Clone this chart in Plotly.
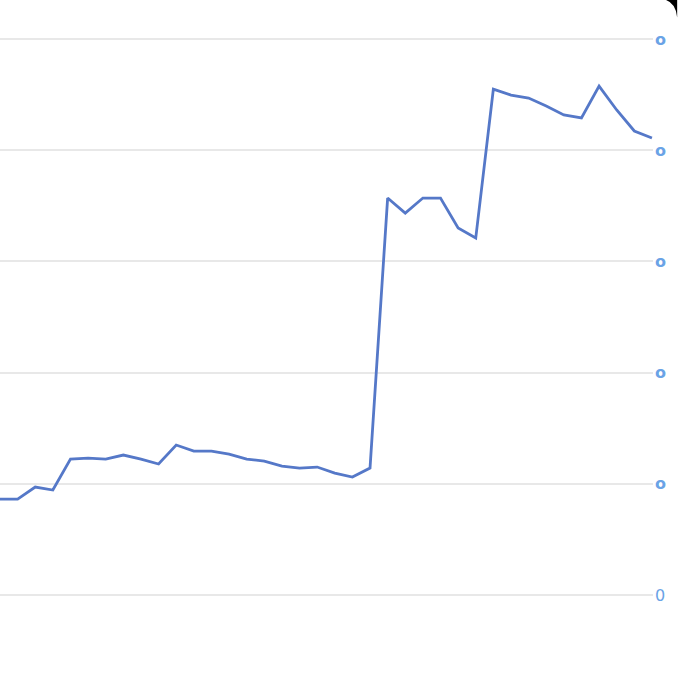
import plotly.graph_objects as go

x_index = list(range(38))
values = [0.863, 0.863, 0.971, 0.944, 1.223, 1.232, 1.223, 1.259, 1.223, 1.178,
          1.349, 1.295, 1.295, 1.268, 1.223, 1.205, 1.160, 1.142, 1.151, 1.097,
          1.061, 1.142, 3.570, 3.435, 3.570, 3.570, 3.300, 3.210, 4.550, 4.496,
          4.469, 4.397, 4.317, 4.290, 4.577, 4.362, 4.173, 4.110]
tick_vals = [0, 1, 2, 3, 4, 5]
tick_text = ["0", "<b>o</b>", "<b>o</b>", "<b>o</b>", "<b>o</b>", "<b>o</b>"]

fig = go.Figure()
fig.add_trace(go.Scatter(x=x_index, y=values, mode="lines",
                         line=dict(color="#5578c8", width=2.8),
                         hoverinfo="skip", showlegend=False))

fig.update_layout(
    width=678, height=696,
    margin=dict(l=0, r=25, t=0, b=0),
    paper_bgcolor="white", plot_bgcolor="white",
    xaxis=dict(range=[0, 37.06], showgrid=False, zeroline=False,
               showticklabels=False, showline=False, fixedrange=True),
    yaxis=dict(range=[-0.908, 5.351], side="right",
               tickvals=tick_vals, ticktext=tick_text,
               showgrid=True, gridcolor="#e8e8e8", gridwidth=2,
               zeroline=False, showline=False, ticks="",
               ticklabelstandoff=1, fixedrange=True,
               tickfont=dict(family="DejaVu Sans", size=16, color="#6aa3e6")),
    shapes=[dict(type="path", xref="paper", yref="paper",
                 path="M 1.02,1 L 1.037,1 L 1.037,0.975 Q 1.035,0.995 1.02,1 Z",
                 fillcolor="black", line=dict(width=0))],
)

fig.write_html("out.html", config={"displayModeBar": False},
               post_script="document.body.style.margin='0px';document.body.style.overflow='hidden';")
